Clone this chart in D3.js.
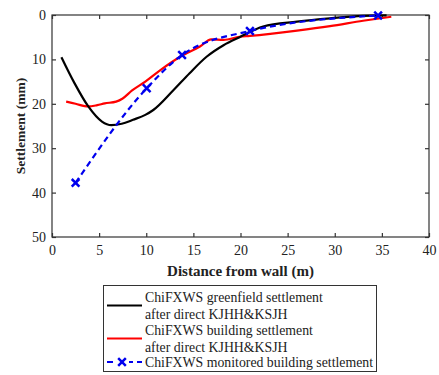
<!DOCTYPE html>
<html>
<head>
<meta charset="utf-8">
<script src="https://cdn.jsdelivr.net/npm/d3@7"></script>
<style>
  body { margin: 0; background: #fff; }
  text { font-family: "Liberation Serif", "Times New Roman", serif; fill: #222; }
</style>
</head>
<body>
<div class="chart-area"></div>
<script>
// greenfield settlement (black)
const greenX = [1.0, 2.4, 3.85, 5.3, 6.3, 7.4, 8.6, 9.9, 10.75, 12.9, 14.6, 16.4, 18.2, 19.9, 22.4, 26, 29.5, 33, 35.5];
const greenY = [9.5, 15.4, 20.6, 24.0, 24.8, 24.5, 23.6, 22.5, 21.4, 16.9, 13.1, 9.4, 6.8, 5.0, 2.6, 1.5, 0.75, 0.2, 0.1];
// building settlement (red)
const buildX = [1.5, 2.5, 3.85, 4.8, 5.6, 6.8, 7.5, 8.5, 9.9, 11.5, 13.6, 15.7, 16.9, 18.2, 19.9, 21, 26, 29.5, 33, 36];
const buildY = [19.5, 20.0, 20.6, 20.3, 19.9, 19.5, 18.8, 17.0, 15.0, 12.4, 9.4, 7.1, 5.5, 5.6, 4.9, 4.7, 3.5, 2.5, 1.3, 0.4];
// monitored building settlement (blue)
const monX = [2.5, 10.05, 13.8, 21.0, 34.6];
const monY = [37.8, 16.5, 9.0, 3.6, 0.1];

const xTicks = [0, 5, 10, 15, 20, 25, 30, 35, 40];
const yTicks = [0, 10, 20, 30, 40, 50];
const legendLabels = [
  ["ChiFXWS greenfield settlement", "after direct KJHH&KSJH"],
  ["ChiFXWS building settlement", "after direct KJHH&KSJH"],
  ["ChiFXWS monitored building settlement"]
];

const width = 439, height = 375;
const margin = { top: 15, right: 10, bottom: 138, left: 52 };

const svg = d3.select(".chart-area").append("svg")
  .attr("width", width).attr("height", height);

const x = d3.scaleLinear().domain([0, 40]).range([margin.left, width - margin.right]);
const y = d3.scaleLinear().domain([0, 50]).range([margin.top, height - margin.bottom]);

const axisColor = "#333";
const tick = 4;

// box
svg.append("rect")
  .attr("x", x(0)).attr("y", y(0))
  .attr("width", x(40) - x(0)).attr("height", y(50) - y(0))
  .attr("fill", "none").attr("stroke", axisColor).attr("stroke-width", 1.2);

const gx = svg.append("g").attr("transform", `translate(0,${y(50)})`)
  .call(d3.axisBottom(x).tickValues(xTicks).tickSizeInner(-tick).tickSizeOuter(0).tickPadding(8));
const gxTop = svg.append("g").attr("transform", `translate(0,${y(0)})`)
  .call(d3.axisTop(x).tickValues(xTicks).tickSizeInner(-tick).tickSizeOuter(0).tickFormat(""));
const gy = svg.append("g").attr("transform", `translate(${x(0)},0)`)
  .call(d3.axisLeft(y).tickValues(yTicks).tickSizeInner(-tick).tickSizeOuter(0).tickPadding(6));
const gyRight = svg.append("g").attr("transform", `translate(${x(40)},0)`)
  .call(d3.axisRight(y).tickValues(yTicks).tickSizeInner(-tick).tickSizeOuter(0).tickFormat(""));

[gx, gxTop, gy, gyRight].forEach(g => {
  g.select(".domain").remove();
  g.selectAll("line").attr("stroke", axisColor).attr("stroke-width", 1.2);
  g.selectAll("text").attr("font-size", 14)
    .attr("font-family", "Liberation Serif, serif").attr("fill", "#222");
});

// axis titles
svg.append("text")
  .attr("x", (x(0) + x(40)) / 2).attr("y", 276)
  .attr("text-anchor", "middle").attr("font-size", 15).attr("font-weight", "bold")
  .text("Distance from wall (m)");
svg.append("text")
  .attr("transform", `translate(25,${(y(0) + y(50)) / 2}) rotate(-90)`)
  .attr("text-anchor", "middle").attr("font-size", 13.5).attr("font-weight", "bold")
  .text("Settlement (mm)");

const plot = svg.append("g");

const lineGreen = d3.line().x((d, i) => x(greenX[i])).y(d => y(d)).curve(d3.curveMonotoneX);
const lineBuild = d3.line().x((d, i) => x(buildX[i])).y(d => y(d)).curve(d3.curveMonotoneX);
const lineMon = d3.line().x((d, i) => x(monX[i])).y(d => y(d)).curve(d3.curveMonotoneX);

plot.append("path").attr("d", lineBuild(buildY))
  .attr("fill", "none").attr("stroke", "#ff0000").attr("stroke-width", 2.2);
plot.append("path").attr("d", lineGreen(greenY))
  .attr("fill", "none").attr("stroke", "#000").attr("stroke-width", 2.2);
plot.append("path").attr("d", lineMon(monY))
  .attr("fill", "none").attr("stroke", "#0000ee").attr("stroke-width", 2.2)
  .attr("stroke-dasharray", "6,4");

const cross = d3.symbol().type(d3.symbolX).size(40);
plot.selectAll(".mk").data(monY).enter().append("path")
  .attr("class", "mk")
  .attr("transform", (d, i) => `translate(${x(monX[i])},${y(d)})`)
  .attr("d", cross)
  .attr("fill", "none").attr("stroke", "#0000ee").attr("stroke-width", 2.5);

// legend
const lg = svg.append("g");
lg.append("rect").attr("x", 103.5).attr("y", 285.5).attr("width", 273).attr("height", 86)
  .attr("fill", "#fff").attr("stroke", "#333").attr("stroke-width", 1);

const rows = [297.5, 314, 330.5, 347, 362];
const textX = 145;
[[legendLabels[0][0], rows[0]], [legendLabels[0][1], rows[1]],
 [legendLabels[1][0], rows[2]], [legendLabels[1][1], rows[3]],
 [legendLabels[2][0], rows[4]]].forEach(([t, ry]) => {
  lg.append("text").attr("x", textX).attr("y", ry).attr("dy", "0.35em")
    .attr("font-size", 13.8).text(t);
});

lg.append("line").attr("x1", 107).attr("x2", 142).attr("y1", 305.5).attr("y2", 305.5)
  .attr("stroke", "#000").attr("stroke-width", 2);
lg.append("line").attr("x1", 107).attr("x2", 142).attr("y1", 338.5).attr("y2", 338.5)
  .attr("stroke", "#ff0000").attr("stroke-width", 2);
lg.append("line").attr("x1", 107).attr("x2", 142).attr("y1", rows[4]).attr("y2", rows[4])
  .attr("stroke", "#0000ee").attr("stroke-width", 2).attr("stroke-dasharray", "6,4");
lg.append("rect").attr("x", 115).attr("y", rows[4] - 3).attr("width", 14).attr("height", 6)
  .attr("fill", "#fff");
lg.append("path").attr("transform", `translate(122,${rows[4]})`).attr("d", cross)
  .attr("fill", "none").attr("stroke", "#0000ee").attr("stroke-width", 2.5);
</script>
</body>
</html>
